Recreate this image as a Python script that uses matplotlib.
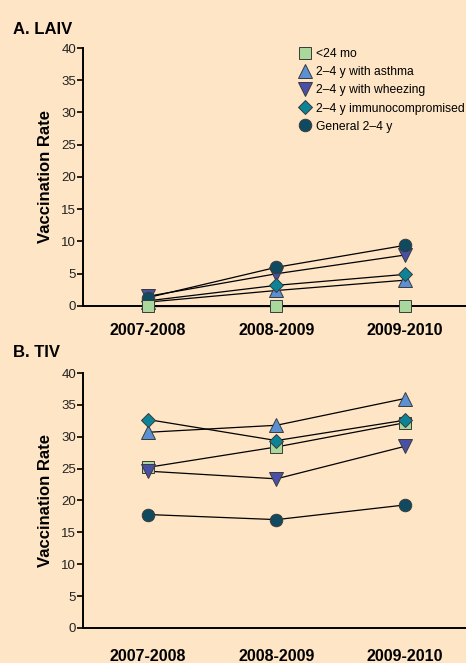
import matplotlib
matplotlib.use("Agg")
import matplotlib.pyplot as plt
from matplotlib.lines import Line2D

plt.rcParams['font.family'] = ['Liberation Sans', 'DejaVu Sans']

seasons = ["2007-2008", "2008-2009", "2009-2010"]
series_names = ["<24 mo", "2–4 y with asthma", "2–4 y with wheezing",
                "2–4 y immunocompromised", "General 2–4 y"]

laiv_lt24 = [0.0, 0.0, 0.0]
laiv_asthma = [0.6, 2.4, 4.0]
laiv_wheezing = [1.5, 5.0, 7.9]
laiv_immuno = [0.8, 3.2, 4.9]
laiv_general = [1.3, 6.0, 9.4]

tiv_lt24 = [25.2, 28.4, 32.2]
tiv_asthma = [30.7, 31.8, 36.0]
tiv_wheezing = [24.6, 23.4, 28.5]
tiv_immuno = [32.7, 29.4, 32.6]
tiv_general = [17.8, 17.0, 19.3]

bg = "#FDE5C5"
styles = [
    dict(marker="s", color="#A9D79C", ms=8.0),
    dict(marker="^", color="#5B90D2", ms=9.5),
    dict(marker="v", color="#4A50A6", ms=9.5),
    dict(marker="D", color="#0C8396", ms=7.0),
    dict(marker="o", color="#0F4A60", ms=9.0),
]

fig = plt.figure(figsize=(4.66, 6.63), dpi=100, facecolor=bg)
ax1 = fig.add_axes([0.178, 0.5385, 0.822, 0.3891])
ax2 = fig.add_axes([0.178, 0.0528, 0.822, 0.3846])

def draw(ax, data, zorders, pad):
    ax.set_facecolor(bg)
    x = list(range(len(seasons)))
    for vals, st, z in zip(data, styles, zorders):
        ax.plot(x, vals, color="black", lw=0.9, zorder=2,
                clip_on=False)
        ax.plot(x, vals, linestyle="none", marker=st["marker"],
                markersize=st["ms"], markerfacecolor=st["color"],
                markeredgecolor="#3a3a3a", markeredgewidth=0.7,
                zorder=z, clip_on=False)
    ax.set_xlim(-0.506, 2.475)
    ax.set_ylim(0, 40)
    ax.set_yticks(range(0, 41, 5))
    ax.set_xticks(x)
    ax.set_xticklabels(seasons, fontsize=11.5, fontweight="bold")
    for s in ["top", "right"]:
        ax.spines[s].set_visible(False)
    for s in ["left", "bottom"]:
        ax.spines[s].set_linewidth(1.4)
        ax.spines[s].set_color("black")
    ax.tick_params(axis="y", direction="out", length=4, width=1.2,
                   labelsize=9.5, labelcolor="#222222", pad=1)
    ax.tick_params(axis="x", length=0, pad=pad)
    ax.set_ylabel("Vaccination Rate", fontsize=12, fontweight="bold",
                  labelpad=6)

draw(ax1, [laiv_lt24, laiv_asthma, laiv_wheezing, laiv_immuno, laiv_general],
     [6, 3, 4, 4, 5], 12.5)
draw(ax2, [tiv_lt24, tiv_asthma, tiv_wheezing, tiv_immuno, tiv_general],
     [3, 3, 4, 5, 5], 15)

fig.text(0.028, 0.956, "A. LAIV", fontsize=12, fontweight="bold",
         va="center", ha="left")
fig.text(0.028, 0.468, "B. TIV", fontsize=12, fontweight="bold",
         va="center", ha="left")

handles = [Line2D([], [], linestyle="none", marker=st["marker"],
                  markersize=st["ms"], markerfacecolor=st["color"],
                  markeredgecolor="#3a3a3a", markeredgewidth=0.7)
           for st in styles]
fig.legend(handles, series_names, loc="upper left",
           bbox_to_anchor=(0.641, 0.927), frameon=False,
           fontsize=8.7, handlelength=1.0, handletextpad=0.45,
           labelspacing=0.5, borderpad=0, borderaxespad=0)

fig.savefig("out.png", dpi=100, facecolor=bg)
